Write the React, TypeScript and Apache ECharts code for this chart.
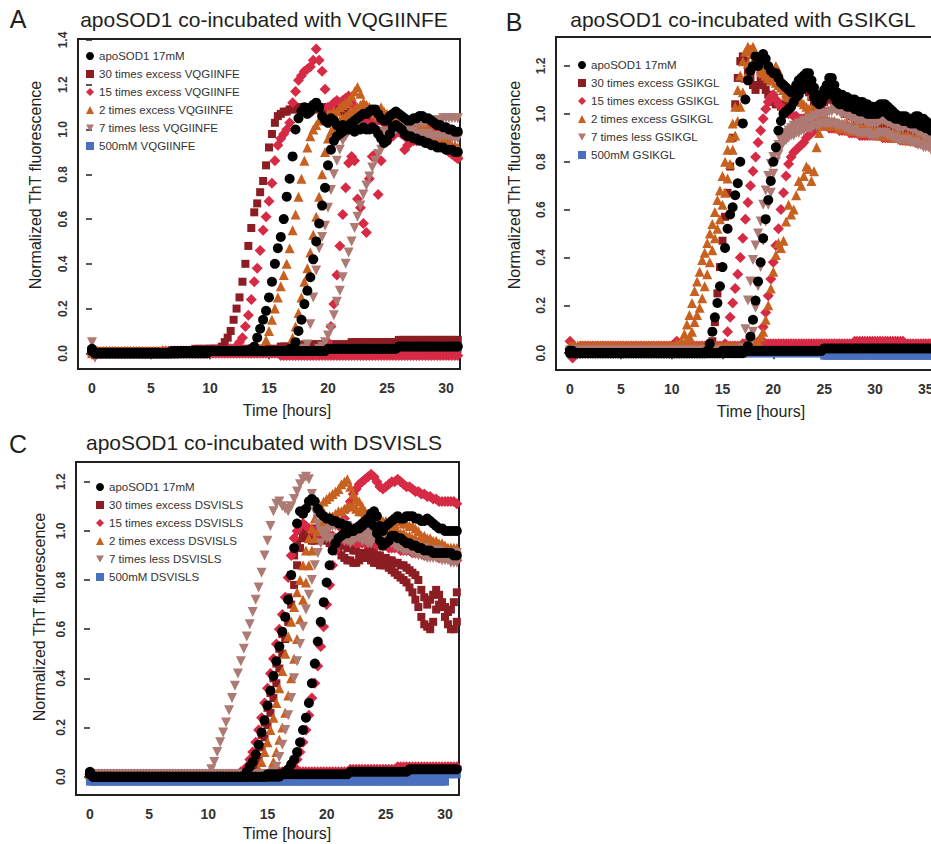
import React, { useEffect, useRef } from "react";
import * as echarts from "echarts";

// One reading every 0.25 h. Values are normalized ThT fluorescence in hundredths.
const HOURS_PER_READING = 0.25;

// ---------- Panel A: VQGIINFE (0 .. 31 h) ----------
const A_apo1 = [2,0,0,0, 0,0,0,0, 0,0,0,0, 0,0,0,0, 0,0,0,0, 0,0,0,0, 0,0,0,1, 1,1,1,1, 1,1,1,1, 1,1,1,1, 1,1,1,1, 1,1,1,1, 1,1,1,1, 1,1,2,3, 7,11,15,19, 25,32,40,47, 52,60,70,78, 88,100,105,108, 110,107,108,111, 112,110,106,104, 103,105,104,102, 101,102,101,102, 103,104,105,106, 107,107,108,109, 109,107,105,104, 104,106,107,108, 107,106,105,104, 104,105,105,106, 106,105,105,104, 103,102,102,101, 101,100,100,99, 99];
const A_apo2 = [1,0,0,0, 0,0,0,0, 0,0,0,0, 0,0,0,0, 0,0,0,0, 0,0,0,0, 0,0,0,0, 0,0,1,1, 1,1,1,1, 1,1,1,1, 1,1,1,1, 1,1,1,1, 1,1,1,1, 1,1,1,1, 1,1,1,1, 1,1,1,1, 1,1,1,2, 2,5,10,15, 22,28,34,42, 50,58,66,74, 84,91,95,97, 98,99,100,100, 100,99,100,100, 101,100,100,101, 100,98,96,94, 95,98,101,102, 101,100,98,97, 97,96,96,95, 95,94,94,93, 93,92,92,92, 91,91,91,90, 90];
const A_apo3 = [1,0,0,0, 0,0,0,0, 0,0,0,0, 0,0,0,0, 0,0,0,0, 0,0,0,0, 0,0,0,0, 0,0,0,0, 0,0,0,0, 0,0,0,0, 1,1,1,1, 1,1,1,1, 1,1,1,1, 1,1,1,1, 1,1,1,1, 1,1,1,1, 1,1,1,1, 1,1,1,1, 1,1,1,1, 1,1,1,1, 2,2,2,2, 2,2,2,2, 2,2,2,2, 2,2,2,2, 2,2,2,2, 2,2,2,2, 3,3,3,3, 3,3,3,3, 3,3,3,3, 3,3,3,3, 3,3,3,3, 3];
const A_x30a = [1,1,1,1, 1,1,1,1, 1,1,1,1, 1,1,1,1, 1,1,1,1, 1,1,1,1, 1,1,1,1, 1,1,1,1, 1,1,1,2, 2,2,2,2, 2,2,2,2, 3,5,7,10, 15,20,25,32, 40,48,56,63, 67,72,77,84, 92,98,103,106, 107,108,108,109, 109,109,110,110, 109,110,110,109, 109,110,110,109, 110,110,109,109, 108,108,108,107, 107,107,106,106, 106,105,105,105, 105,104,104,104, 104,103,103,103, 103,103,102,102, 102,102,102,101, 101,101,101,100, 100,100,100,100, 99,99,99,99, 99];
const A_x30b = [1,1,1,1, 1,1,1,1, 1,1,1,1, 1,1,1,1, 1,1,1,1, 1,1,1,1, 1,1,1,1, 1,1,1,1, 1,1,1,1, 1,1,1,1, 2,2,2,2, 2,2,2,2, 2,2,2,2, 2,2,2,2, 2,2,2,2, 2,2,2,2, 3,3,3,3, 3,3,3,3, 4,4,4,4, 4,4,4,4, 4,4,4,4, 4,4,4,4, 5,5,5,5, 5,5,5,5, 5,5,5,5, 5,5,5,5, 6,6,6,6, 6,6,6,6, 6,6,6,6, 6,6,6,6, 6,6,6,6, 6];
const A_x15a = [0,0,0,0, 0,0,0,0, 0,0,0,0, 0,0,0,0, 0,0,0,0, 0,0,0,0, 1,1,1,1, 1,1,1,1, 1,1,1,1, 1,1,1,1, 1,1,1,1, 1,1,1,2, 2,3,5,7, 12,17,24,32, 38,46,55,61, 68,76,86,93, 96,98,100,103, 112,117,122,124, 126,127,128,131, 136,131,126,118, 110,110,112,113, 112,113,114,115, 112,110,108,106, 104,103,102,103, 104,105,104,103, 102,101,100,99, 99,98,97,96, 96,95,95,96, 97,98,97,96, 95,94,93,92, 91,90,89,88, 87];
const A_x15b = [0,-1,0,0, 0,0,0,0, 0,0,0,0, 0,0,0,0, 0,0,0,0, 0,0,0,0, 0,0,0,0, 0,0,0,0, 0,0,0,0, 0,0,0,0, 1,1,1,1, 1,1,1,1, 1,1,1,1, 1,1,1,1, 1,1,1,1, 1,1,1,1, 1,1,1,1, 1,1,1,1, 1,1,1,1, 1,1,2,3, 5,12,22,35, 48,62,74,85, 88,86,69,65, 58,54,78,88, 89,71,86,94, 96,98,97,99, 100,98,91,93, 96,99,101,102, 103,102,104,103, 101,100,99,97, 95,93,91,89, 87];
const A_x15c = [0,0,0,0, 0,0,0,0, 0,0,0,0, 0,0,0,0, 0,0,0,0, 0,0,0,0, 0,0,0,0, 0,0,0,0, 0,0,0,0, 0,0,0,0, 0,0,0,0, 0,0,0,0, 0,0,0,0, 0,0,0,0, 0,0,0,0, 0,0,0,0, -1,-1,-1,-1, -1,-1,-1,-1, -1,-1,-1,-1, -1,-1,-1,-1, -1,-1,-1,-1, -1,-1,-1,-1, -1,-1,-1,-1, -1,-1,-1,-1, -1,-1,-1,-1, -1,-1,-1,-1, -1,-1,-1,-1, -1,-1,-1,-1, -1,-1,-1,-1, -1,-1,-1,-1, -1,-1,-1,-1, -1];
const A_x2a = [1,1,1,1, 1,1,1,1, 1,1,1,1, 1,1,1,1, 1,1,1,1, 1,1,1,1, 1,1,1,1, 1,1,1,1, 1,1,1,1, 1,1,1,1, 1,1,1,1, 1,1,1,1, 1,1,1,1, 1,1,1,1, 1,2,3,6, 10,15,20,25, 30,35,40,47, 55,62,70,78, 86,92,97,100, 102,104,105,106, 107,107,108,108, 110,111,112,113, 115,117,119,116, 112,111,110,109, 108,109,110,108, 107,106,106,106, 105,105,104,104, 103,103,103,102, 102,101,100,99, 98,97,97,96, 95,94,93,93, 92];
const A_x2b = [0,1,1,1, 1,1,1,1, 1,1,1,1, 1,1,1,1, 1,1,1,1, 1,1,1,1, 1,1,1,1, 1,1,1,1, 1,1,1,1, 1,1,1,1, 1,1,1,1, 1,1,1,1, 1,1,1,1, 1,1,1,1, 1,1,1,1, 1,1,1,1, 1,1,2,3, 7,12,18,25, 32,38,45,53, 61,70,80,90, 96,99,101,102, 104,105,106,107, 108,109,110,111, 112,111,110,108, 107,106,106,105, 105,104,104,104, 104,104,103,103, 103,102,102,101, 100,99,99,98, 97,96,95,95, 94,93,92,91, 90];
const A_less7a = [5,-2,0,0, 0,0,0,0, 0,0,0,0, 0,0,0,0, 0,0,0,0, 0,0,0,0, 0,0,0,0, 0,0,0,0, 0,0,0,0, 1,1,1,1, 1,1,1,1, 1,1,1,1, 1,1,1,1, 1,1,1,1, 1,1,1,1, 1,1,1,1, 1,1,1,1, 1,1,1,2, 2,4,13,25, 37,47,52,57, 65,73,80,86, 91,95,97,99, 100,100,101,101, 100,100,100,100, 99,99,99,98, 98,99,99,100, 100,100,99,99, 99,99,98,98, 98,98,98,97, 97,97,97,97, 97,97,96,96, 96];
const A_less7b = [1,0,0,0, 0,0,0,0, 0,0,0,0, 0,0,0,0, 0,0,0,0, 0,0,0,0, 0,0,0,0, 0,0,0,0, 0,0,0,0, 1,1,1,1, 1,1,1,1, 1,1,1,1, 1,1,1,1, 1,1,1,1, 1,1,1,1, 1,1,1,1, 1,1,1,1, 1,1,1,1, 1,1,1,1, 1,2,3,5, 8,11,17,23, 28,34,40,45, 50,56,61,66, 71,75,79,83, 86,89,91,94, 96,97,99,100, 101,101,102,102, 103,103,103,103, 103,103,104,104, 104,104,104,105, 105,105,105,105, 105];
const A_mM500 = [0,0,0,0, 0,0,0,0, 0,0,0,0, 0,0,0,0, 0,0,0,0, 0,0,0,0, 0,0,0,0, 0,0,0,0, 0,0,0,0, 0,0,0,0, 0,0,0,0, 0,0,0,0, 0,0,0,0, 0,0,0,0, 0,0,0,0, 0,0,0,0, 0,0,0,0, 0,0,0,0, 0,0,0,0, 0,0,0,0, 0,0,0,0, 0,0,0,0, 0,0,0,0, 0,0,0,0, 0,0,0,0, 0,0,0,0, 1,1,1,1, 1,1,1,1, 1,1,1,1, 1,1,1,1, 1,2,2,2, 2];

// ---------- Panel B: GSIKGL (0 .. 36 h) ----------
const B_apo1 = [1,0,0,0, 0,0,0,0, 0,0,0,0, 0,0,0,0, 0,0,0,0, 0,0,0,0, 0,0,0,0, 0,0,0,0, 0,0,0,0, 0,0,0,0, 0,0,0,0, 0,0,0,0, 0,0,0,0, 0,0,1,4, 9,15,21,28, 36,44,52,58, 61,66,71,80, 96,106,114,118, 120,124,120,122, 125,123,120,118, 117,117,115,113, 112,111,110,109, 110,112,114,115, 116,117,117,114, 111,108,107,108, 110,112,115,115, 112,109,108,108, 107,107,106,106, 106,105,105,105, 104,104,103,103, 103,103,104,104, 104,103,102,101, 100,99,99,99, 99,98,98,98, 99,99,98,98, 97,96,96,95, 95];
const B_apo2 = [0,1,0,0, 0,0,0,0, 0,0,0,0, 0,0,0,0, 0,0,0,0, 0,0,0,0, 0,0,0,0, 0,0,0,0, 0,0,0,0, 0,0,0,0, 0,0,0,0, 0,0,0,0, 0,0,0,0, 0,0,0,0, 0,0,0,0, 0,0,0,0, 0,0,0,0, 0,1,3,7, 14,22,30,38, 48,56,64,72, 80,86,93,97, 100,101,102,103, 105,107,108,110, 111,112,112,110, 107,105,104,105, 107,109,110,109, 107,105,104,104, 104,103,103,103, 102,102,101,101, 101,100,100,100, 100,100,101,101, 101,100,99,99, 98,98,98,97, 97,97,96,96, 96,96,95,95, 94,94,93,93, 93];
const B_apo3 = [1,0,0,0, 0,0,0,0, 0,0,0,0, 0,0,0,0, 0,0,0,0, 0,0,0,0, 0,0,0,0, 0,0,0,0, 0,0,0,0, 0,0,0,0, 0,0,0,0, 0,0,0,0, 0,0,0,0, 0,0,0,0, 0,0,0,0, 1,1,1,1, 1,1,1,1, 1,1,1,1, 1,1,1,1, 1,1,1,1, 1,1,1,1, 1,1,1,1, 1,1,1,1, 1,1,1,1, 1,1,1,1, 2,2,2,2, 2,2,2,2, 2,2,2,2, 2,2,2,2, 2,2,2,2, 2,2,2,2, 2,2,2,2, 2,2,2,2, 2,2,2,2, 2,2,2,2, 2,2,2,2, 2];
const B_x30a = [1,1,1,1, 1,1,1,1, 1,1,1,1, 1,1,1,1, 1,1,1,1, 1,1,1,1, 1,1,1,1, 1,1,1,1, 1,1,1,1, 1,1,1,1, 1,1,1,1, 1,1,1,1, 1,1,1,1, 1,1,1,2, 5,13,25,36, 47,57,67,78, 90,104,115,122, 124,122,118,115, 112,110,112,114, 113,110,108,106, 105,104,104,103, 103,104,105,106, 107,108,109,110, 110,110,109,107, 105,103,102,103, 105,106,107,106, 105,104,103,103, 100,100,99,99, 98,98,97,97, 97,96,96,96, 96,96,95,95, 95,95,94,94, 94,93,93,93, 93,92,92,92, 92,91,91,91, 90,90,90,89, 89];
const B_x15a = [5,-2,0,1, 1,1,1,1, 2,2,2,2, 2,2,2,2, 2,2,2,2, 2,2,2,2, 2,2,2,2, 2,2,2,2, 2,2,2,2, 2,2,2,2, 3,4,5,4, 3,3,2,2, 2,2,2,2, 2,2,2,2, 2,2,2,2, 2,4,9,15, 21,27,33,40, 48,56,63,70, 76,82,88,93, 98,102,105,107, 108,106,104,103, 102,101,100,100, 99,99,98,98, 98,97,97,97, 96,96,96,95, 95,95,94,94, 94,94,93,93, 93,93,92,92, 92,92,91,91, 91,91,91,91, 91,91,91,90, 90,90,90,90, 90,90,89,89, 89,89,89,89, 88,88,88,88, 88];
const B_x15b = [0,0,1,1, 1,1,1,1, 1,1,1,1, 1,1,1,1, 1,1,1,1, 1,1,1,1, 1,1,1,1, 1,1,1,1, 1,1,1,1, 1,1,1,1, 1,1,1,1, 1,1,1,1, 1,1,1,1, 1,1,1,1, 1,1,1,1, 1,1,1,1, 1,1,1,1, 1,1,1,1, 1,1,3,6, 11,17,24,31, 38,45,52,60, 67,74,79,82, 84,85,86,87, 88,90,91,92, 93,94,95,96, 97,97,96,96, 96,95,95,95, 95,94,94,94, 94,94,93,93, 93,93,93,92, 92,92,92,92, 92,91,91,91, 91,91,90,90, 90,90,90,89, 89,89,89,88, 88,88,88,88, 88];
const B_x15c = [2,2,2,2, 3,3,3,3, 3,3,3,3, 3,3,3,3, 3,3,3,3, 3,3,3,3, 3,3,3,3, 3,3,3,3, 3,3,3,3, 3,3,3,3, 3,3,3,3, 3,3,3,3, 3,3,3,3, 3,3,3,3, 3,3,3,3, 3,3,3,3, 3,3,3,3, 4,4,4,4, 4,4,4,4, 4,4,4,4, 4,4,4,4, 4,4,4,4, 4,4,4,4, 4,4,4,4, 4,4,4,4, 4,4,4,4, 4,4,4,4, 4,4,4,4, 5,5,5,5, 5,5,5,5, 5,5,5,5, 5,5,5,5, 5,5,5,5, 4,4,4,4, 4,4,4,4, 4,4,4,4, 4];
const B_x2a = [3,3,3,3, 3,3,3,3, 3,3,3,3, 3,3,3,3, 3,3,3,3, 3,3,3,3, 3,3,3,3, 3,3,3,3, 3,3,3,3, 3,3,3,3, 3,3,4,4, 5,8,12,16, 21,26,30,34, 39,42,46,50, 54,59,64,68, 74,80,85,90, 96,103,110,116, 122,126,128,127, 125,122,120,118, 117,116,115,114, 116,120,118,113, 110,108,107,106, 106,107,109,112, 114,116,113,108, 104,101,100,99, 98,97,97,96, 96,95,95,95, 95,94,94,94, 94,93,93,93, 93,92,92,92, 92,92,91,91, 91,91,91,90, 90,90,90,90, 90,89,89,89, 89,89,89,88, 88,88,88,88, 88];
const B_x2b = [3,3,3,3, 3,3,3,3, 3,3,3,3, 3,3,3,3, 3,3,3,3, 3,3,3,3, 3,3,3,3, 3,3,3,3, 3,3,3,3, 3,3,3,3, 3,3,3,3, 3,4,5,7, 9,13,16,19, 23,28,33,38, 43,48,52,56, 62,67,73,79, 85,91,97,103, 109,115,121,126, 128,124,121,119, 118,116,115,114, 114,113,112,111, 110,109,108,108, 107,106,106,105, 104,103,102,101, 100,99,99,98, 98,97,97,97, 97,96,96,96, 96,96,95,95, 95,95,94,94, 94,94,94,93, 93,93,93,93, 93,92,92,92, 92,92,91,91, 91,91,90,90, 90,90,89,89, 89];
const B_x2c = [3,3,3,3, 3,3,3,3, 3,3,3,3, 3,3,3,3, 3,3,3,3, 3,3,3,3, 3,3,3,3, 3,3,3,3, 3,3,3,3, 3,3,3,3, 3,3,3,3, 3,3,3,3, 3,3,3,3, 3,3,3,3, 3,3,3,3, 3,3,3,3, 3,3,3,3, 3,3,3,3, 3,4,5,7, 9,14,20,27, 34,41,46,44, 47,55,62,58, 60,66,72,70, 74,78,77,72, 76,86,92,95, 96,96,95,95, 95,95,94,94, 94,94,93,93, 93,93,93,92, 92,92,92,92, 92,92,92,92, 92,92,91,91, 91,90,90,90, 90,90,89,89, 89,89,88,88, 88,88,87,87, 87];
const B_less7a = [1,1,1,1, 1,1,1,1, 1,1,1,1, 1,1,1,1, 1,1,1,1, 1,1,1,1, 1,1,1,1, 1,1,1,1, 1,1,1,1, 1,1,1,1, 1,1,1,1, 1,1,1,1, 1,1,1,1, 1,1,1,1, 1,1,1,1, 1,1,1,1, 1,1,1,1, 2,10,22,30, 39,45,50,55, 62,68,74,79, 82,85,87,89, 91,92,93,94, 95,95,96,96, 97,97,98,98, 99,99,100,100, 100,100,101,101, 102,101,101,100, 100,99,99,98, 98,97,97,97, 97,96,96,96, 96,96,97,97, 97,96,96,95, 95,94,94,94, 95,94,94,93, 93,92,92,91, 90,90,89,89, 88];
const B_less7b = [1,1,1,1, 1,1,1,1, 1,1,1,1, 1,1,1,1, 1,1,1,1, 1,1,1,1, 1,1,1,1, 1,1,1,1, 1,1,1,1, 1,1,1,1, 1,1,1,1, 1,1,1,1, 1,1,1,1, 1,1,1,1, 1,1,1,1, 1,1,1,1, 1,1,1,1, 1,1,2,4, 9,19,28,36, 47,55,62,67, 75,80,83,86, 88,89,90,91, 91,92,92,93, 93,94,94,94, 95,95,95,96, 96,96,96,96, 96,95,95,95, 94,94,93,93, 93,92,92,92, 92,92,91,91, 91,91,92,92, 92,91,91,90, 90,89,89,89, 89,89,88,88, 88,87,87,86, 86,86,85,85, 85];
const B_mM500 = [0,0,0,0, 0,0,0,0, 0,0,0,0, 0,0,0,0, 0,0,0,0, 0,0,0,0, 0,0,0,0, 0,0,0,0, 0,0,0,0, 0,0,0,0, 0,0,0,0, 0,0,0,0, 0,0,0,0, 0,0,0,0, 0,0,0,0, 0,0,0,0, 0,0,0,0, 0,0,0,0, 0,0,0,0, 0,0,0,0, 0,0,0,0, 0,0,0,0, 0,0,0,0, 0,0,0,0, 0,0,0,0, -1,-1,-1,-1, -1,-1,-1,-1, -1,-1,-1,-1, -1,-1,-1,-1, -1,-1,-1,-1, -1,-1,-1,-1, -1,-1,-1,-1, -1,-1,-1,-1, -1,-1,-1,-1, -1,-1,-1,-1, -1,-1,-1,-1, -1];

// ---------- Panel C: DSVISLS (0 .. 31 h) ----------
const C_apo1 = [2,0,0,0, 0,0,0,0, 0,0,0,0, 0,0,0,0, 0,0,0,0, 0,0,0,0, 0,0,0,0, 0,0,0,0, 0,0,0,0, 0,0,0,0, 0,0,0,0, 0,0,0,0, 0,0,0,0, 0,2,4,6, 9,13,18,23, 29,35,41,47, 53,59,65,72, 82,93,103,108, 107,109,112,113, 112,109,107,106, 105,105,104,104, 103,103,102,102, 100,100,101,102, 103,104,105,107, 108,106,102,100, 102,103,104,105, 106,105,105,106, 106,106,105,105, 104,104,105,104, 103,102,101,101, 100,100,100,100, 100];
const C_apo2 = [1,0,0,0, 0,0,0,0, 0,0,0,0, 0,0,0,0, 0,0,0,0, 0,0,0,0, 0,0,0,0, 0,0,0,0, 0,0,0,0, 0,0,0,0, 0,0,0,0, 0,0,0,0, 0,0,0,0, 0,0,0,0, 0,0,0,0, 0,0,0,0, 0,1,2,3, 5,7,10,14, 19,24,30,38, 46,55,63,71, 79,86,92,95, 97,98,99,99, 100,100,101,101, 102,103,104,103, 102,99,96,94, 95,96,98,98, 97,97,96,95, 95,94,94,93, 93,92,92,92, 91,91,91,91, 91,91,91,90, 90];
const C_apo3 = [1,0,0,0, 0,0,0,0, 0,0,0,0, 0,0,0,0, 0,0,0,0, 0,0,0,0, 0,0,0,0, 0,0,0,0, 0,0,0,0, 0,0,0,0, 0,0,0,0, 0,0,0,0, 0,0,0,0, 0,0,0,0, 0,0,0,0, 1,1,1,1, 1,1,1,1, 1,1,1,1, 1,1,1,1, 1,1,1,1, 1,1,1,1, 1,1,1,1, 2,2,2,2, 2,2,2,2, 2,2,2,2, 2,2,2,2, 2,2,2,2, 3,3,3,3, 3,3,3,3, 3,3,3,3, 3,3,3,3, 3];
const C_x30a = [1,1,1,1, 1,1,1,1, 1,1,1,1, 1,1,1,1, 1,1,1,1, 1,1,1,1, 1,1,1,1, 1,1,1,1, 1,1,1,1, 1,1,1,1, 1,1,1,1, 1,1,1,1, 1,1,1,1, 1,2,3,5, 8,12,17,22, 28,34,40,46, 52,58,65,73, 82,90,96,100, 101,100,99,100, 101,100,99,98, 98,97,97,96, 96,95,94,93, 93,92,92,91, 91,91,92,92, 91,90,90,89, 89,88,88,87, 87,86,86,85, 84,83,82,80, 76,73,70,72, 74,76,74,71, 69,67,68,71, 75];
const C_x30b = [1,1,1,1, 1,1,1,1, 1,1,1,1, 1,1,1,1, 1,1,1,1, 1,1,1,1, 1,1,1,1, 1,1,1,1, 1,1,1,1, 1,1,1,1, 1,1,1,1, 1,1,1,1, 1,1,1,1, 1,1,2,3, 5,8,12,16, 21,26,32,38, 44,50,56,63, 70,78,86,93, 97,99,98,96, 96,97,98,97, 96,95,94,93, 92,90,89,88, 88,87,87,88, 89,90,89,88, 87,87,86,86, 86,85,84,83, 82,81,80,79, 77,75,72,69, 65,62,61,60, 63,68,70,69, 65,62,60,60, 63];
const C_x15a = [1,1,1,1, 1,1,1,1, 1,1,1,1, 1,1,1,1, 1,1,1,1, 1,1,1,1, 1,1,1,1, 1,1,1,1, 1,1,1,1, 1,1,1,1, 1,1,1,1, 1,1,1,1, 1,1,1,2, 2,4,7,10, 14,19,24,30, 36,42,48,54, 60,66,73,81, 90,97,100,102, 103,102,101,100, 100,99,99,99, 98,98,98,97, 97,97,96,96, 96,96,95,95, 95,95,95,95, 95,94,94,94, 94,93,93,93, 93,92,92,92, 92,91,91,91, 91,90,90,90, 90,90,89,89, 89,89,89,88, 88];
const C_x15b = [1,1,1,1, 1,1,1,1, 1,1,1,1, 1,1,1,1, 1,1,1,1, 1,1,1,1, 1,1,1,1, 1,1,1,1, 1,1,1,1, 1,1,1,1, 1,1,1,1, 1,1,1,1, 1,1,1,1, 1,1,1,1, 1,1,1,1, 1,1,1,1, 1,1,1,1, 2,4,7,10, 14,19,25,32, 38,45,53,61, 70,78,86,92, 97,101,105,109, 112,115,117,119, 120,121,122,123, 122,120,118,117, 118,119,120,120, 121,120,119,118, 118,117,116,116, 115,115,114,114, 113,113,112,112, 112,112,112,112, 111];
const C_x15c = [1,1,1,1, 1,1,1,1, 1,1,1,1, 1,1,1,1, 1,1,1,1, 1,1,1,1, 1,1,1,1, 1,1,1,1, 1,1,1,1, 1,1,1,1, 1,1,1,1, 1,1,1,1, 1,1,1,1, 1,1,1,1, 1,1,1,1, 1,1,1,1, 2,2,2,2, 2,2,2,2, 2,2,2,2, 2,2,2,2, 2,2,2,2, 2,2,2,2, 3,3,3,3, 3,3,3,3, 3,3,3,3, 3,3,3,3, 4,4,4,4, 4,4,4,4, 4,4,4,4, 4,4,4,4, 4,4,4,4, 4];
const C_x2a = [1,1,1,1, 1,1,1,1, 1,1,1,1, 1,1,1,1, 1,1,1,1, 1,1,1,1, 1,1,1,1, 1,1,1,1, 1,1,1,1, 1,1,1,1, 1,1,1,1, 1,1,1,1, 1,1,1,1, 1,1,1,1, 1,3,6,10, 14,19,24,30, 36,43,50,57, 63,69,75,80, 86,92,97,101, 105,108,110,112, 113,114,115,116, 117,119,120,121, 118,115,113,112, 110,108,107,106, 105,105,104,104, 104,103,103,103, 104,104,103,103, 102,102,101,100, 98,98,97,97, 96,96,95,95, 93,93,93,93, 92];
const C_x2b = [1,1,1,1, 1,1,1,1, 1,1,1,1, 1,1,1,1, 1,1,1,1, 1,1,1,1, 1,1,1,1, 1,1,1,1, 1,1,1,1, 1,1,1,1, 1,1,1,1, 1,1,1,1, 1,1,1,1, 1,1,1,1, 1,1,1,1, 1,3,6,10, 15,20,26,33, 40,48,56,64, 72,79,86,92, 97,100,102,104, 105,106,106,107, 108,108,109,110, 110,110,109,108, 108,107,106,106, 105,104,103,103, 102,101,101,100, 100,99,99,98, 98,97,97,96, 96,95,95,95, 95,94,94,94, 94,93,93,93, 93];
const C_less7a = [1,1,1,1, 1,1,1,1, 1,1,1,1, 1,1,1,1, 1,1,1,1, 1,1,1,1, 1,1,1,1, 1,1,1,1, 1,1,1,1, 1,1,1,1, 1,3,6,10, 14,18,22,27, 32,37,42,47, 52,57,62,67, 72,77,83,90, 96,102,108,111, 112,110,109,108, 110,113,116,119, 121,122,121,115, 108,103,100,98, 97,97,96,96, 97,97,96,96, 95,96,97,97, 96,96,95,95, 97,97,98,98, 97,96,95,94, 93,93,92,92, 92,91,91,90, 90,90,89,89, 89,89,89,88, 88,88,87,87, 87];
const C_less7b = [1,1,1,1, 1,1,1,1, 1,1,1,1, 1,1,1,1, 1,1,1,1, 1,1,1,1, 1,1,1,1, 1,1,1,1, 1,1,1,1, 1,1,1,1, 1,1,1,1, 1,1,1,1, 1,1,1,1, 1,1,1,1, 1,1,1,1, 1,1,2,4, 8,13,19,25, 32,40,47,54, 61,68,74,80, 86,91,95,98, 100,101,102,102, 103,103,102,102, 101,101,100,100, 99,99,99,98, 98,98,98,98, 97,97,96,96, 96,95,95,95, 95,94,94,93, 93,93,92,92, 92,92,92,91, 91,91,91,91, 91];
const C_mM500a = [-2,-2,-2,-2, -2,-2,-2,-2, -2,-2,-2,-2, -2,-2,-2,-2, -2,-2,-2,-2, -2,-2,-2,-2, -2,-2,-2,-2, -2,-2,-2,-2, -2,-2,-2,-2, -2,-2,-2,-2, -2,-2,-2,-2, -2,-2,-2,-2, -2,-2,-2,-2, -2,-2,-2,-2, -2,-2,-2,-2, -2,-2,-2,-2, -2,-2,-2,-2, -2,-2,-2,-2, -2,-2,-2,-2, -2,-2,-2,-2, -2,-2,-2,-2, -2,-2,-2,-2, -2,-2,-2,-2, -2,-2,-2,-2, -2,-2,-2,-2, -2,-2,-2,-2, -2,-2,-2,-2, -2,-2,-2,-2, -2,-2,-2,-2, -2,-2,-2,-2, -2];
const C_mM500b = [-1,-1,-1,-1, -1,-1,-1,-1, -1,-1,-1,-1, -1,-1,-1,-1, -1,-1,-1,-1, -1,-1,-1,-1, -1,-1,-1,-1, -1,-1,-1,-1, -1,-1,-1,-1, -1,-1,-1,-1, -1,-1,-1,-1, -1,-1,-1,-1, -1,-1,-1,-1, -1,-1,-1,-1, -1,-1,-1,-1, -1,-1,-1,-1, -1,-1,-1,-1, -1,-1,-1,-1, -1,-1,-1,-1, -1,-1,-1,-1, 0,0,0,0, 0,0,0,0, 0,0,0,0, 0,0,0,0, 0,0,0,0, 0,0,0,0, 1,1,1,1, 1,1,1,1, 1,1,1,1, 1,1,1,1, 1,1,1,1, 1];

// Tick values
const X_TICKS_AC = [0, 5, 10, 15, 20, 25, 30];
const X_TICKS_B = [0, 5, 10, 15, 20, 25, 30, 35];
const Y_TICKS_A = [0, 0.2, 0.4, 0.6, 0.8, 1.0, 1.2, 1.4];
const Y_TICKS_BC = [0, 0.2, 0.4, 0.6, 0.8, 1.0, 1.2];

const FONT = "'Liberation Sans', Arial, Helvetica, sans-serif";
const INK = "#231f20";

const STYLES: Record<string, { color: string; symbol: string; size: number }> = {
  apo: { color: "#000000", symbol: "circle", size: 10 },
  x30: { color: "#8c1d22", symbol: "rect", size: 8 },
  x15: { color: "#d62a45", symbol: "diamond", size: 11 },
  x2: { color: "#c8601f", symbol: "triangle", size: 10 },
  less7: { color: "#ad7a74", symbol: "path://M0,0L10,0L5,9Z", size: 10 },
  mM500: { color: "#4a6fbf", symbol: "rect", size: 8 },
};

const nameOf = (key: string, pep: string) => {
  switch (key) {
    case "apo": return "apoSOD1 17mM";
    case "x30": return `30 times excess ${pep}`;
    case "x15": return `15 times excess ${pep}`;
    case "x2": return `2 times excess ${pep}`;
    case "less7": return `7 times less ${pep}`;
    default: return `500mM ${pep}`;
  }
};

const DRAW_ORDER = ["mM500", "x30", "x15", "x2", "less7", "apo"];
const LEGEND_ORDER = ["apo", "x30", "x15", "x2", "less7", "mM500"];

const PANELS = [
  {
    pep: "VQGIINFE",
    grid: { left: 78, top: 39, width: 382, height: 330 },
    x: [-1.186, 31.186], y: [-0.07, 1.4045],
    xTicks: X_TICKS_AC, yTicks: Y_TICKS_A,
    legend: { left: 86, top: 50 },
    data: { mM500: [A_mM500], x30: [A_x30a, A_x30b], x15: [A_x15a, A_x15b, A_x15c], x2: [A_x2a, A_x2b], less7: [A_less7a, A_less7b], apo: [A_apo1, A_apo2, A_apo3] } as Record<string, number[][]>,
  },
  {
    pep: "GSIKGL",
    grid: { left: 556, top: 37, width: 405, height: 333 },
    x: [-1.377, 38.458], y: [-0.07, 1.321],
    xTicks: X_TICKS_B, yTicks: Y_TICKS_BC,
    legend: { left: 578, top: 59 },
    data: { mM500: [B_mM500], x30: [B_x30a], x15: [B_x15a, B_x15b, B_x15c], x2: [B_x2a, B_x2b, B_x2c], less7: [B_less7a, B_less7b], apo: [B_apo1, B_apo2, B_apo3] } as Record<string, number[][]>,
  },
  {
    pep: "DSVISLS",
    grid: { left: 76, top: 462, width: 383, height: 333 },
    x: [-1.183, 31.184], y: [-0.0745, 1.2802],
    xTicks: X_TICKS_AC, yTicks: Y_TICKS_BC,
    legend: { left: 96, top: 481 },
    data: { mM500: [C_mM500a, C_mM500b], x30: [C_x30a, C_x30b], x15: [C_x15a, C_x15b, C_x15c], x2: [C_x2a, C_x2b], less7: [C_less7a, C_less7b], apo: [C_apo1, C_apo2, C_apo3] } as Record<string, number[][]>,
  },
];

const LABELS = [
  { text: "A", x: 18, y: 19, size: 25, rot: 0 },
  { text: "B", x: 514, y: 22, size: 25, rot: 0 },
  { text: "C", x: 18, y: 444, size: 25, rot: 0 },
  { text: "apoSOD1 co-incubated with VQGIINFE", x: 264, y: 19, size: 21, rot: 0 },
  { text: "apoSOD1 co-incubated with GSIKGL", x: 743, y: 19, size: 21, rot: 0 },
  { text: "apoSOD1 co-incubated with DSVISLS", x: 264, y: 442, size: 21, rot: 0 },
  { text: "Time [hours]", x: 287, y: 410, size: 16, rot: 0 },
  { text: "Time [hours]", x: 761, y: 411, size: 16, rot: 0 },
  { text: "Time [hours]", x: 287, y: 833, size: 16, rot: 0 },
  { text: "Normalized ThT fluorescence", x: 35, y: 185, size: 16, rot: Math.PI / 2 },
  { text: "Normalized ThT fluorescence", x: 514, y: 185, size: 16, rot: Math.PI / 2 },
  { text: "Normalized ThT fluorescence", x: 39, y: 617, size: 16, rot: Math.PI / 2 },
];

export default function App() {
  const ref = useRef<HTMLDivElement>(null);
  useEffect(() => {
    if (!ref.current) return;
    const chart = echarts.init(ref.current, undefined, { renderer: "svg" });
    const grids: any[] = [];
    const xAxes: any[] = [];
    const yAxes: any[] = [];
    const legends: any[] = [];
    const series: any[] = [];
    PANELS.forEach((p, i) => {
      grids.push({ ...p.grid, show: true, borderColor: INK, borderWidth: 2, backgroundColor: "transparent", containLabel: false, outerBoundsMode: "none" });
      xAxes.push({
        type: "value", gridIndex: i, min: p.x[0], max: p.x[1],
        axisLine: { show: false }, splitLine: { show: false },
        axisTick: { show: true, length: 6, customValues: p.xTicks, lineStyle: { color: INK, width: 1.5 } },
        axisLabel: { show: true, customValues: p.xTicks, margin: 12, fontSize: 14, fontWeight: "bold", color: "#333", fontFamily: FONT, formatter: (v: number) => String(Math.round(v)) },
      });
      yAxes.push({
        type: "value", gridIndex: i, min: p.y[0], max: p.y[1],
        axisLine: { show: false }, splitLine: { show: false },
        axisTick: { show: true, length: 6, customValues: p.yTicks, lineStyle: { color: INK, width: 1.5 } },
        axisLabel: { show: true, customValues: p.yTicks, rotate: 90, margin: 9, fontSize: 12, fontWeight: "bold", color: "#333", fontFamily: FONT, formatter: (v: number) => v.toFixed(1) },
      });
      legends.push({
        orient: "vertical", left: p.legend.left, top: p.legend.top, padding: 0,
        itemWidth: 8, itemHeight: 8, itemGap: 6, selectedMode: false,
        data: LEGEND_ORDER.map((k) => nameOf(k, p.pep)),
        textStyle: { fontSize: 11.5, lineHeight: 12, color: "#333", fontFamily: FONT },
      });
      DRAW_ORDER.forEach((key) => {
        const st = STYLES[key];
        p.data[key].forEach((vals) => {
          series.push({
            type: "scatter", name: nameOf(key, p.pep), xAxisIndex: i, yAxisIndex: i,
            symbol: st.symbol, symbolSize: st.size, silent: true, clip: true,
            itemStyle: { color: st.color, opacity: 1 },
            emphasis: { disabled: true },
            data: vals.map((v, j) => [j * HOURS_PER_READING, v / 100]),
          });
        });
      });
    });
    chart.setOption({
      animation: false,
      backgroundColor: "#ffffff",
      grid: grids, xAxis: xAxes, yAxis: yAxes, legend: legends, series,
      graphic: {
        elements: LABELS.map((l) => ({
          type: "text", x: l.x, y: l.y, rotation: l.rot, silent: true,
          style: { text: l.text, fontSize: l.size, fontFamily: FONT, fill: INK, align: "center", verticalAlign: "middle", textAlign: "center", textVerticalAlign: "middle" },
        })),
      },
    });
    return () => chart.dispose();
  }, []);
  return <div ref={ref} style={{ position: "absolute", left: 0, top: 0, width: 931, height: 844, background: "#fff" }} />;
}
